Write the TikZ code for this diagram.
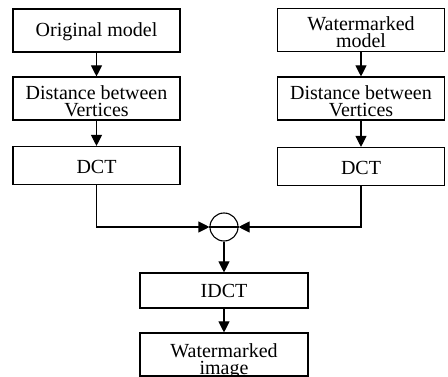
\documentclass[tikz,border=0pt]{standalone}
\usepackage{fontspec}
\setmainfont{Liberation Serif}
\usetikzlibrary{arrows.meta}
\begin{document}
\begin{tikzpicture}[x=1pt,y=-1pt,
  box/.style={draw,line width=1.1pt,inner sep=0pt,minimum width=167pt,minimum height=43pt,
    align=center,font=\fontsize{20}{17}\selectfont,text depth=0pt},
  arr/.style={line width=1.1pt,-{Triangle[length=11pt,width=11pt]}},
  ln/.style={line width=1.1pt}]
\useasboundingbox (0,0) rectangle (448,377);
\node[box,text height=13pt] (orig) at (96.5,30.5) {Original model};
\node[box,text height=37pt] (dist1) at (96.5,98.5) {Distance between\\Vertices};
\node[box,minimum height=38pt,text height=17pt] (dct1) at (96.5,165.5) {DCT};
\node[box,text height=36pt] (wmod) at (361,30) {Watermarked\\model};
\node[box,text height=37pt] (dist2) at (361,98.5) {Distance between\\Vertices};
\node[box,minimum height=38pt,text height=17pt] (dct2) at (361,166.5) {DCT};
\node[draw,line width=1.1pt,circle,minimum size=28pt,inner sep=0pt] (circ) at (224,227) {};
\draw[ln] (circ.west) -- (circ.east);
\node[box,minimum width=168pt,minimum height=35pt,text height=15pt] (idct) at (224,290.5) {IDCT};
\node[box,minimum width=168pt,text height=40pt] (wimg) at (224,354.5) {Watermarked\\image};
\draw[arr] (orig) -- (dist1);
\draw[arr] (dist1) -- (dct1);
\draw[arr] (wmod) -- (dist2);
\draw[arr] (dist2) -- (dct2);
\draw[arr] (dct1.south) |- (circ.west);
\draw[arr] (dct2.south) |- (circ.east);
\draw[arr] (circ) -- (idct);
\draw[arr] (idct) -- (wimg);
\end{tikzpicture}
\end{document}
